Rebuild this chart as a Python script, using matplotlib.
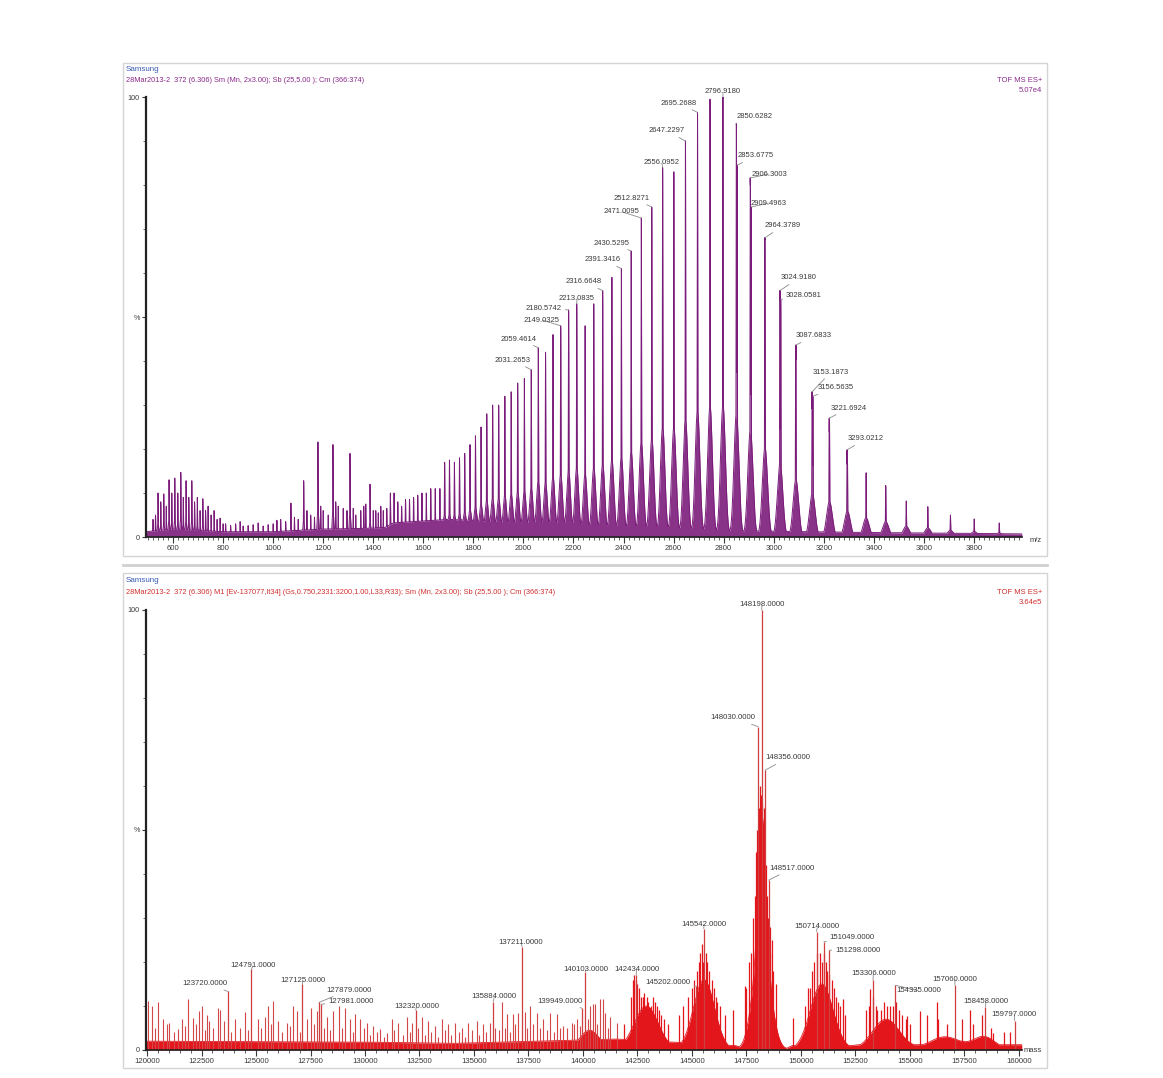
import numpy as np
import matplotlib
matplotlib.use("Agg")
import matplotlib.pyplot as plt
from matplotlib.patches import Rectangle
from matplotlib.lines import Line2D
from matplotlib.ticker import MultipleLocator, FixedLocator

plt.rcParams['font.family'] = ['Liberation Sans', 'DejaVu Sans']

# ------------------------------------------------------------------ data
# Top: raw ESI spectrum, charge-state series (m/z, % intensity)
main_mz = [3901.0, 3801.0, 3706.0, 3615.6, 3529.5, 3447.5, 3369.1, 3294.3, 3222.7, 3154.2,
           3088.5, 3025.5, 2965.0, 2906.8, 2851.0, 2797.2, 2745.4, 2695.5, 2647.4, 2601.0,
           2556.2, 2512.8, 2471.0, 2430.5, 2391.3, 2353.4, 2316.6, 2281.0, 2246.4, 2212.9,
           2180.4, 2148.8, 2118.1, 2088.3, 2059.3, 2031.1, 2003.7, 1977.0, 1951.0, 1925.7,
           1901.0, 1876.9, 1853.5, 1830.6, 1808.3, 1786.5, 1765.3, 1744.5, 1724.2, 1704.4,
           1685.1, 1666.2, 1647.6, 1629.6, 1611.9, 1594.6, 1577.6, 1561.0, 1544.7, 1528.8,
           1513.2, 1498.0, 1483.0, 1468.3, 1453.9]
main_h = [3.2, 4.1, 5.0, 6.9, 8.2, 11.7, 14.6, 19.8, 27, 33,
          43.6, 56, 68, 81.6, 94, 100, 99.5, 96.5, 90, 83,
          84, 75, 72.5, 65, 61, 59, 56, 53, 48, 53,
          51.6, 48, 46, 42, 43, 38, 36, 35, 33, 32,
          30, 30, 28, 25, 23, 21, 19, 18, 17, 17.5,
          17, 11, 11, 11, 10, 10, 9.5, 9, 8.5, 8.5,
          7, 8, 10, 10, 6.5]

# low-mass / mid-mass peaks of the top spectrum
minor_mz = [520, 530, 540, 551, 563, 573, 584, 595, 607, 619, 631, 641, 652, 663, 675, 686,
            697, 708, 719, 730, 740, 752, 764, 776, 788, 800, 810, 830, 850, 868, 880, 900,
            920, 940, 960, 980, 1000, 1015, 1030, 1050, 1071, 1085, 1100, 1122, 1135, 1150,
            1165, 1179, 1190, 1200, 1220, 1239, 1250, 1260, 1280, 1295, 1307, 1320, 1330,
            1350, 1362, 1370, 1387, 1400, 1410, 1420, 1430, 1440]
minor_h = [4, 5, 10, 8, 9.8, 7, 13, 10, 13.4, 10, 14.7, 9, 12.8, 9, 12.8, 8,
           9, 6, 8.7, 6, 7, 5, 6, 4, 4.3, 3, 3, 2.6, 3, 3.5, 2.5, 2.6,
           2.8, 3.2, 2.5, 2.8, 3, 3.8, 4, 3.5, 7.7, 4.5, 4, 12.8, 6, 5,
           4.5, 21.6, 7, 6, 5, 21, 8, 7, 6.5, 6, 19, 6.5, 5,
           6, 7, 7.5, 12, 6, 6, 5.5, 7, 6]

# background level of the top spectrum
base_mz = [492, 600, 800, 1000, 1200, 1400, 1450, 1480, 1700, 1900, 2100, 2500, 3000, 3400, 3992]
base_lvl = [1.2, 1.8, 1.2, 1.2, 1.8, 2.0, 2.2, 3.2, 4.0, 3.5, 2.5, 1.8, 1.3, 1.0, 0.7]

# labelled peaks of the top spectrum
top_label_mz = [2031.2653, 2059.4614, 2149.0325, 2180.5742, 2213.0835, 2316.6648, 2391.3416,
                2430.5295, 2471.0095, 2512.8271, 2556.0952, 2647.2297, 2695.2688, 2796.9180,
                2850.6282, 2853.6775, 2906.3003, 2909.4963, 2964.3789, 3024.9180, 3028.0581,
                3087.6833, 3153.1873, 3156.5635, 3221.6924, 3293.0212]
top_label_h = [38, 43, 48, 51.6, 53, 56, 61, 65, 72.5, 75, 84, 90, 96.5, 100,
               94, 84.5, 81.6, 75, 68, 56, 54, 43.6, 33, 32, 27, 19.8]
top_text_pos = [(1958.4, 40.2), (1982.3, 45.0), (2074.2, 49.3), (2082.2, 52.0), (2214.1, 54.3),
                (2242.0, 58.0), (2317.9, 63.0), (2353.9, 66.8), (2393.8, 73.9), (2433.8, 77.0),
                (2553.7, 85.0), (2573.6, 92.3), (2621.6, 98.6), (2797.4, 101.2), (2925.2, 95.5),
                (2929.2, 86.6), (2981.1, 82.5), (2981.1, 75.9), (3037.1, 70.7), (3101.0, 58.9),
                (3121.0, 54.8), (3160.9, 45.7), (3228.8, 37.5), (3248.8, 33.9), (3300.8, 29.3),
                (3368.7, 22.3)]

# Bottom: deconvoluted (MaxEnt) spectrum, mass vs %
bot_label_mass = [123720, 124791, 127125, 127879, 127981, 132320, 135884, 137211, 139949,
                  140103, 142434, 145202, 145542, 148030, 148198, 148356, 148517, 150714,
                  151049, 151298, 153306, 154335, 157060, 158458, 159797]
bot_label_h = [13.3, 18.3, 14.9, 10.8, 10.4, 9.1, 11.0, 23.5, 9.5,
               17.8, 17.0, 14.5, 27.6, 73.5, 100, 63.6, 38.6, 26.9,
               24.6, 22.7, 15.9, 14.7, 14.8, 9.8, 6.7]
bot_text_pos = [(122676, 15.1), (124862, 19.2), (127156, 15.9), (129266, 13.6), (129358, 11.1),
                (132371, 9.8), (135932, 12.1), (137150, 24.4), (138931, 11.1), (140138, 18.3),
                (142463, 18.3), (143913, 15.3), (145551, 28.6), (146881, 75.5), (148211, 101.3),
                (149404, 66.4), (149597, 41.3), (150748, 28.0), (152354, 25.6), (152601, 22.5),
                (153317, 17.3), (155381, 13.5), (157065, 16.1), (158487, 11.1), (159786, 8.1)]

noise_mass = [120050, 120214, 120520, 120749, 121024, 121437, 121621, 121896, 122125, 122400,
              122508, 122767, 122859, 123272, 123349, 124037, 124495, 125107, 125413, 125565,
              125795, 126024, 126407, 126682, 126865, 127324, 127508, 127783, 128272, 128547,
              128822, 129082, 129312, 129541, 129770, 130076, 130382, 130688, 130994, 131223,
              131529, 131911, 132141, 132599, 132905, 133211, 133517, 133822, 134128, 134434,
              134740, 135122, 135427, 135733, 136269, 136498, 136773, 137033, 137339, 137568,
              137874, 138180, 138486, 138792, 139097, 139480, 139709, 140321, 140550, 140780,
              141009, 141238, 141544, 140933, 140474,
              120350, 120900, 121250, 121750, 122250, 122650, 123050, 123550, 123850, 124250,
              124650, 125250, 125700, 126200, 126550, 127000, 127650, 128100, 128400, 128950,
              129450, 129950, 130250, 130550, 130850, 131350, 131750, 132050, 132450, 132750,
              133050, 133350, 133650, 133950, 134300, 134600, 134900, 135250, 135550, 135950,
              136150, 136400, 136650, 136900, 137450, 137700, 138050, 138350, 138650, 138950,
              139250, 139600, 139850, 140250, 140650, 141150]
noise_h = [11.1, 10.0, 10.8, 7.0, 6.2, 4.7, 7.0, 11.5, 7.3, 8.9,
           10.0, 8.0, 6.5, 9.6, 9.2, 7.0, 8.7, 7.0, 7.6, 10.0,
           11.1, 6.5, 6.2, 10.0, 8.9, 7.0, 9.6, 8.9, 7.5, 8.9,
           10.0, 9.6, 7.0, 8.1, 7.0, 6.2, 5.5, 4.7, 3.9, 7.0,
           6.2, 7.6, 6.2, 7.4, 6.6, 5.5, 7.0, 5.9, 6.2, 5.1,
           6.2, 6.5, 5.9, 6.2, 10.8, 8.1, 8.1, 8.5, 8.7, 10.0,
           8.5, 7.0, 8.5, 8.1, 5.5, 6.2, 7.0, 10.0, 10.4, 11.5,
           8.5, 7.6, 6.2, 11.5, 10.4,
           5, 6, 4, 5.5, 6, 4.5, 5, 6.5, 4, 5,
           4.5, 5, 6, 4, 5.5, 4, 6, 5, 4.5, 5,
           4, 5, 3.5, 4, 3, 4.5, 3.5, 4, 5, 3.5,
           4, 3, 4.5, 3.5, 4, 3, 4.5, 3.5, 4, 5,
           4.5, 5, 4, 6, 5, 6, 5, 4.5, 4, 5,
           5, 6, 5.5, 7, 6, 5]

cluster_mass = [141900, 142200, 142300, 142350, 142450, 142500, 142550, 142650, 142750, 142800,
                142950, 143000, 143100, 143200, 143300, 143400, 143500, 143600, 143700, 143900,
                144400, 144600, 144800, 145000, 145100, 145250, 145300, 145380, 145450, 145500,
                145620, 145700, 145800, 145900, 146000, 146100, 146131, 146300, 146500, 146896,
                147431, 147500, 147600, 147700, 147800, 147900, 147950, 148000, 148060, 148100,
                148120, 148160, 148230, 148280, 148300, 148400, 148450, 148480, 148560, 148600,
                148650, 148700, 148850, 149648,
                150200, 150300, 150400, 150500, 150600, 150750, 150850, 150950, 151050, 151150,
                151200, 151300, 151400, 151500, 151600, 151700, 151800, 151942, 152000,
                153000, 153100, 153165, 153300, 153450, 153500, 153650, 153800, 153950, 154100,
                154200, 154350, 154500, 154650, 154800, 154847, 155000,
                155459, 155800, 156223, 156300, 156700, 157400, 157752, 157900, 158300, 158700,
                158822, 159300, 159600]
cluster_h = [6, 12, 16, 17, 16, 15, 14, 12, 12, 13,
             12, 11, 10, 12, 11, 10, 9, 8, 7, 6,
             8, 10, 12, 14, 16, 18, 20, 22, 24, 20,
             22, 20, 18, 16, 14, 12, 10.8, 10, 8, 9.2,
             14.5, 14, 20, 22, 30, 35, 45, 50, 55, 60,
             52, 58, 56, 50, 55, 42, 35, 30, 28, 22,
             25, 18, 15, 7.3,
             10, 14, 14, 18, 20, 22, 22, 20, 22, 20,
             18, 17, 16, 14, 12, 11, 10, 11.5, 8,
             9, 10, 13.8, 12, 10, 9, 9, 11, 10, 10,
             10, 11, 9, 8, 7, 7.7, 6,
             8.9, 8, 11, 7, 6, 7, 9.2, 6, 8, 5,
             3.9, 4, 4]

# broad envelopes (center, width, height) of the deconvoluted clusters
env_center = [140300, 142900, 145550, 148200, 148220, 150950, 153900, 156600, 158400]
env_width = [450, 550, 480, 380, 160, 520, 620, 700, 500]
env_height = [4.5, 10, 16, 25, 28, 15, 7, 3, 3]
floor_mass = [119960, 130000, 134000, 138000, 141500, 147000, 147400, 149300, 149600, 152300,
              152700, 160130]
floor_lvl = [2.0, 1.8, 1.5, 2.0, 2.5, 1.0, 0.3, 0.3, 1.0, 1.0, 1.2, 1.2]

# ------------------------------------------------------------------ figure
W, H = 1163, 1078
fig = plt.figure(figsize=(W / 100, H / 100), dpi=100)
fig.patch.set_facecolor('white')


def fx(px):
    return px / W


def fy(py):
    return 1 - py / H


# window frames
for (x0, y0, x1_, y1_) in [(123, 63, 1047, 556), (123, 573, 1047, 1068)]:
    fig.add_artist(Rectangle((fx(x0), fy(y1_)), (x1_ - x0) / W, (y1_ - y0) / H,
                             transform=fig.transFigure, facecolor='none',
                             edgecolor='#d4d4d4', lw=1.0))
fig.add_artist(Line2D([fx(123), fx(1047)], [fy(565), fy(565)], transform=fig.transFigure,
                      color='#d0d0d0', lw=2.0))

PURPLE = '#7b1c7b'
RED = '#e3161c'
TXT = '#3a3a3a'


def gauss(x, c, s, h):
    return h * np.exp(-0.5 * ((x - c) / s) ** 2)


def style_axes(ax):
    for s in ['top', 'right']:
        ax.spines[s].set_visible(False)
    ax.spines['left'].set_linewidth(1.6)
    ax.spines['left'].set_color('#222222')
    ax.spines['bottom'].set_linewidth(1.2)
    ax.spines['bottom'].set_color('#222222')
    ax.set_facecolor('none')
    ax.set_ylim(0, 100)
    ax.yaxis.set_major_locator(FixedLocator([0, 50, 100]))
    ax.set_yticklabels(['0', '%', '100'])
    ax.yaxis.set_minor_locator(MultipleLocator(10))
    ax.tick_params(axis='y', which='major', length=3, width=0.8, labelsize=5.2,
                   colors=TXT, pad=1.5)
    ax.tick_params(axis='y', which='minor', length=2, width=0.6, colors='#555555')
    ax.tick_params(axis='x', which='major', length=4, width=0.8, labelsize=5.6,
                   colors=TXT, pad=2)
    ax.tick_params(axis='x', which='minor', length=2, width=0.6, colors='#444444')


# ---------------------------------------------------------------- top axes
ax1 = fig.add_axes([fx(146), fy(537), (1022 - 146) / W, 440 / H])
x1 = np.arange(492, 3992, 0.1)
sharp = np.zeros_like(x1)
broad = np.zeros_like(x1)
for mz, h in zip(main_mz + top_label_mz, main_h + top_label_h):
    sharp = np.maximum(sharp, gauss(x1, mz, 1.0, h))
for mz, h in zip(main_mz, main_h):
    broad += gauss(x1, mz, 0.0035 * mz, 0.3 * h)
for mz, h in zip(minor_mz, minor_h):
    sharp = np.maximum(sharp, gauss(x1, mz, 0.8, h))
    broad += gauss(x1, mz, 3.0, 0.3 * h)
base = np.interp(x1, base_mz, base_lvl)
spec = np.maximum(np.maximum(sharp, broad), base)
ax1.fill_between(x1, 0, spec, color=PURPLE, lw=0, alpha=0.9)
ax1.plot(x1, spec, color=PURPLE, lw=0.7)
ax1.set_xlim(492, 3992)
style_axes(ax1)
ax1.xaxis.set_major_locator(FixedLocator(np.arange(600, 3801, 200)))
ax1.xaxis.set_minor_locator(MultipleLocator(20))

for mz, h, (tx, ty) in zip(top_label_mz, top_label_h, top_text_pos):
    ax1.annotate(f'{mz:.4f}', xy=(mz, h), xytext=(tx, ty), textcoords='data',
                 ha='center', va='center', fontsize=5.5, color=TXT,
                 annotation_clip=False,
                 arrowprops=dict(arrowstyle='-', color='#8a8a8a', lw=0.6,
                                 shrinkA=0.5, shrinkB=0))

# ---------------------------------------------------------------- bottom axes
ax2 = fig.add_axes([fx(146), fy(1050), (1022 - 146) / W, 440 / H])
x2 = np.arange(119960, 160130, 2.0)
env = np.zeros_like(x2)
for c, w, h in zip(env_center, env_width, env_height):
    env += gauss(x2, c, w, h)
fill2 = np.maximum(env, np.interp(x2, floor_mass, floor_lvl))
ax2.fill_between(x2, 0, fill2, color=RED, lw=0)
ax2.plot(x2, fill2, color=RED, lw=0.6)
ax2.vlines(noise_mass, 0, noise_h, color='#d24848', lw=0.8)
ax2.vlines(cluster_mass, 0, cluster_h, color=RED, lw=0.9)
ax2.vlines(bot_label_mass, 0, bot_label_h, color='#cf3f3f', lw=0.9)
ax2.set_xlim(119954, 160138)
style_axes(ax2)
ax2.xaxis.set_major_locator(FixedLocator(np.arange(120000, 160001, 2500)))
ax2.xaxis.set_minor_locator(MultipleLocator(500))

for m, h, (tx, ty) in zip(bot_label_mass, bot_label_h, bot_text_pos):
    ax2.annotate(f'{m:.4f}', xy=(m, h), xytext=(tx, ty), textcoords='data',
                 ha='center', va='center', fontsize=5.6, color=TXT,
                 annotation_clip=False,
                 arrowprops=dict(arrowstyle='-', color='#8a8a8a', lw=0.6,
                                 shrinkA=0.5, shrinkB=0))

# ---------------------------------------------------------------- header texts
fig.text(fx(126), fy(69), 'Samsung', fontsize=5.8, color='#3b5bb5', va='center', ha='left')
fig.text(fx(126), fy(81), '28Mar2013-2  372 (6.306) Sm (Mn, 2x3.00); Sb (25,5.00 ); Cm (366:374)',
         fontsize=5.3, color='#8b2a8b', va='center', ha='left')
fig.text(fx(1042), fy(81), 'TOF MS ES+', fontsize=5.5, color='#8b2a8b', va='center', ha='right')
fig.text(fx(1042), fy(91), '5.07e4', fontsize=5.5, color='#8b2a8b', va='center', ha='right')
fig.text(fx(1030), fy(541), 'm/z', fontsize=5.5, color=TXT, va='center', ha='left')

fig.text(fx(126), fy(580), 'Samsung', fontsize=5.8, color='#3b5bb5', va='center', ha='left')
fig.text(fx(126), fy(593),
         '28Mar2013-2  372 (6.306) M1 [Ev-137077,It34] (Gs,0.750,2331:3200,1.00,L33,R33); '
         'Sm (Mn, 2x3.00); Sb (25,5.00 ); Cm (366:374)',
         fontsize=5.3, color='#d03030', va='center', ha='left')
fig.text(fx(1042), fy(593), 'TOF MS ES+', fontsize=5.5, color='#d03030', va='center', ha='right')
fig.text(fx(1042), fy(603), '3.64e5', fontsize=5.5, color='#d03030', va='center', ha='right')
fig.text(fx(1024), fy(1050), 'mass', fontsize=5.5, color=TXT, va='center', ha='left')

fig.savefig('out.png', dpi=100, facecolor='white')
